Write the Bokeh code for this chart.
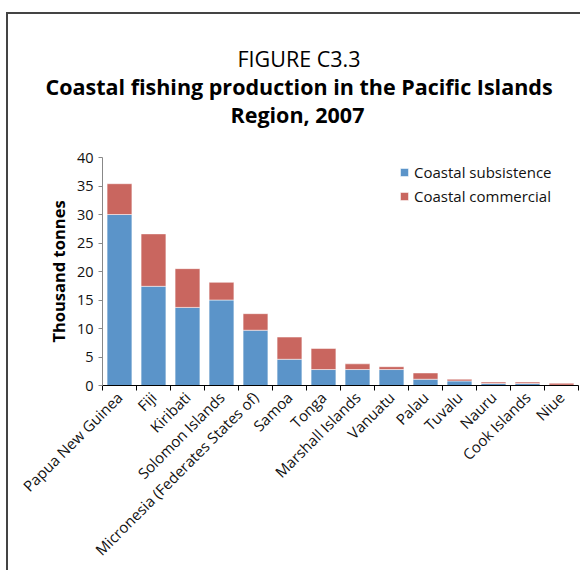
import math
from bokeh.plotting import figure
from bokeh.models import (Range1d, FixedTicker, Title, Legend, LegendItem,
                          ColumnDataSource)
from bokeh.embed import file_html
from bokeh.resources import INLINE

countries = ["Papua New Guinea", "Fiji", "Kiribati", "Solomon Islands",
             "Micronesia (Federates States of)", "Samoa", "Tonga",
             "Marshall Islands", "Vanuatu", "Palau", "Tuvalu", "Nauru",
             "Cook Islands", "Niue"]
subsistence = [30.0, 17.4, 13.7, 15.0, 9.7, 4.6, 2.8, 2.8, 2.8, 1.1, 0.8, 0.35, 0.35, 0.05]
commercial = [5.4, 9.2, 6.8, 3.1, 2.9, 3.9, 3.7, 1.0, 0.5, 1.1, 0.3, 0.25, 0.25, 0.35]
y_ticks = [0, 5, 10, 15, 20, 25, 30, 35, 40]
series_names = ["Coastal subsistence", "Coastal commercial"]
title_lines = ["FIGURE C3.3",
               "Coastal fishing production in the Pacific Islands",
               "Region, 2007"]
y_label = "Thousand tonnes"

FONT = "Open Sans"
colors = ["#5B94C9", "#C9665F"]

xs = [i + 0.5 for i in range(len(countries))]
src = ColumnDataSource(dict(x=xs, country=countries, sub=subsistence, com=commercial))

p = figure(width=574, height=558, x_range=Range1d(0, len(countries)),
           y_range=Range1d(0, 40), output_backend="svg", toolbar_location=None,
           title=None, min_border_left=94, min_border_right=4,
           min_border_top=143, min_border_bottom=187)
p.styles = {"border-left": "2px solid #444", "border-top": "2px solid #444",
            "margin-top": "12px", "margin-left": "6px"}

rs = p.vbar_stack(["sub", "com"], x="x", width=0.73, fill_color=colors,
                  line_color="white", line_alpha=0.5, line_width=1, source=src)

legend = Legend(items=[LegendItem(label=series_names[0], renderers=[rs[0]]),
                       LegendItem(label=series_names[1], renderers=[rs[1]])],
                location=(297, 179), padding=0, margin=0, spacing=4,
                glyph_width=10, glyph_height=10, label_standoff=5,
                label_text_font=FONT, label_text_font_size="15px",
                label_text_color="#111", border_line_alpha=0,
                background_fill_alpha=0)
p.add_layout(legend)

# spacer between the title block and the plot frame
p.add_layout(Title(text=" ", text_font_size="1px", standoff=27), "above")
# titles (first added is closest to the frame); left-aligned with offsets so
# that each line is centred over the whole figure
styles = ["normal", "bold", "bold"]
offsets = [135, -57, 128]
for text, style, off in reversed(list(zip(title_lines, styles, offsets))):
    p.add_layout(Title(text=text, align="left", offset=off, text_font=FONT,
                       text_font_size="21.5px", text_font_style=style,
                       text_color="black", standoff=-3), "above")

p.xaxis.ticker = FixedTicker(ticks=xs, minor_ticks=list(range(len(countries) + 1)))
p.xaxis.major_label_overrides = {x: c for x, c in zip(xs, countries)}
p.xaxis.major_label_orientation = math.pi / 4
p.xaxis.major_tick_out = 0
p.xaxis.major_tick_in = 0
p.xaxis.minor_tick_out = 5
p.xaxis.minor_tick_in = 0
p.xaxis.axis_line_color = "black"
p.xaxis.minor_tick_line_color = "black"
p.xaxis.major_label_text_font = FONT
p.xaxis.major_label_text_font_size = "15px"
p.xaxis.major_label_text_color = "#111"
p.xaxis.major_label_standoff = 4

p.yaxis.ticker = FixedTicker(ticks=y_ticks)
p.yaxis.major_tick_out = 4
p.yaxis.major_tick_in = 0
p.yaxis.minor_tick_line_color = None
p.yaxis.axis_line_color = "#888"
p.yaxis.major_tick_line_color = "#888"
p.yaxis.major_label_text_font = FONT
p.yaxis.major_label_text_font_size = "14.5px"
p.yaxis.major_label_text_color = "#111"
p.yaxis.major_label_standoff = 5
p.yaxis.axis_label = y_label
p.yaxis.axis_label_text_font = FONT
p.yaxis.axis_label_text_font_size = "16.5px"
p.yaxis.axis_label_text_font_style = "bold"
p.yaxis.axis_label_text_color = "black"
p.yaxis.axis_label_standoff = 4

p.grid.visible = False
p.outline_line_color = None

open("out.html", "w").write(file_html(p, INLINE))
